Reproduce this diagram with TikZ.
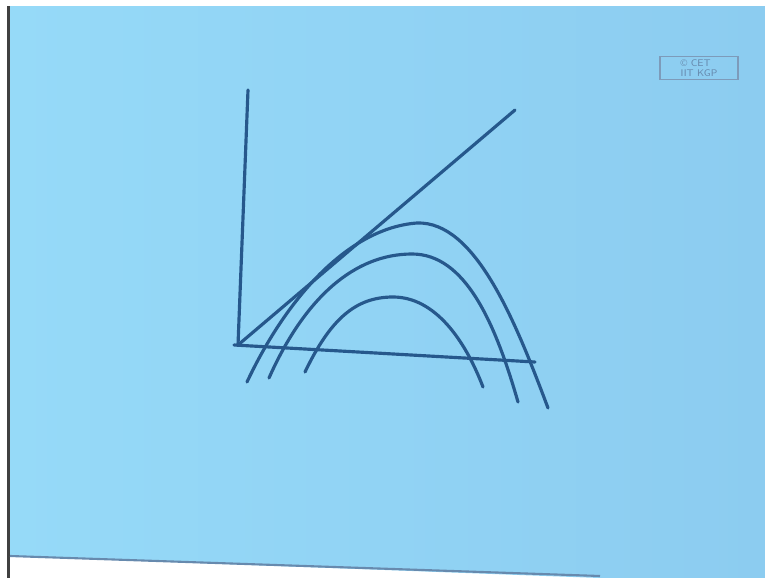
\documentclass[tikz,border=0pt]{standalone}
\usepackage{tikz}
\usetikzlibrary{calc}
\usepackage{xcolor}
\definecolor{SlideBlue}{RGB}{150,218,248}
\definecolor{SlideBlueR}{RGB}{140,204,240}
\definecolor{InkBlue}{RGB}{38,88,140}
\tikzset{
	axisline/.style={InkBlue, line width=1.8pt, line cap=round},
	graphcurve/.style={InkBlue, line width=1.8pt, line cap=round},
	logobox/.style={draw=InkBlue!60, line width=0.6pt, inner sep=1pt, align=left,
		minimum width=1.56cm, minimum height=0.46cm,
		text=InkBlue!70, font=\fontsize{5.5}{5.6}\selectfont\sffamily},
}

\begin{document}
\begin{tikzpicture}[x=0.02cm, y=-0.02cm]
			
			% Frame of the slide
			\useasboundingbox (0,0) rectangle (765,578);
			\fill[white] (0,0) rectangle (765,578);
			\shade[left color=SlideBlue, right color=SlideBlueR] (9,6) -- (765,6) -- (765,578) -- (600,578) -- (9,556) -- cycle;
			\fill[black!75] (7,6) rectangle (9.5,578);
			\draw[InkBlue!70, line width=1.2pt] (10,556) -- (600,576);
			
			% Logo
			\node[logobox] (logo) at (699,68) {\textcopyright{} CET\\ IIT KGP};
			
			% Axes
			\coordinate (O) at (238,345);
			\coordinate (ytop) at (248,90);
			\coordinate (xend) at (535,362);
			\coordinate (xstart) at (234,345);
			\draw[axisline] (ytop) -- (O);
			\draw[axisline] (xstart) -- (xend);
			
			% Diagonal
			\coordinate (dtop) at (515,110);
			\draw[axisline] (O) -- (dtop);
			
			% Curves
			\draw[graphcurve] (247,382) .. controls (288,295) and (350,228) .. (417,223)
				.. controls (475,221) and (515,320) .. (548,408);
			\draw[graphcurve] (269,378) .. controls (305,297) and (355,254) .. (412,254)
				.. controls (465,254) and (495,322) .. (518,402);
			\draw[graphcurve] (305,372) .. controls (330,320) and (355,297) .. (393,297)
				.. controls (435,297) and (465,340) .. (483,387);
			
		\end{tikzpicture}
\end{document}
